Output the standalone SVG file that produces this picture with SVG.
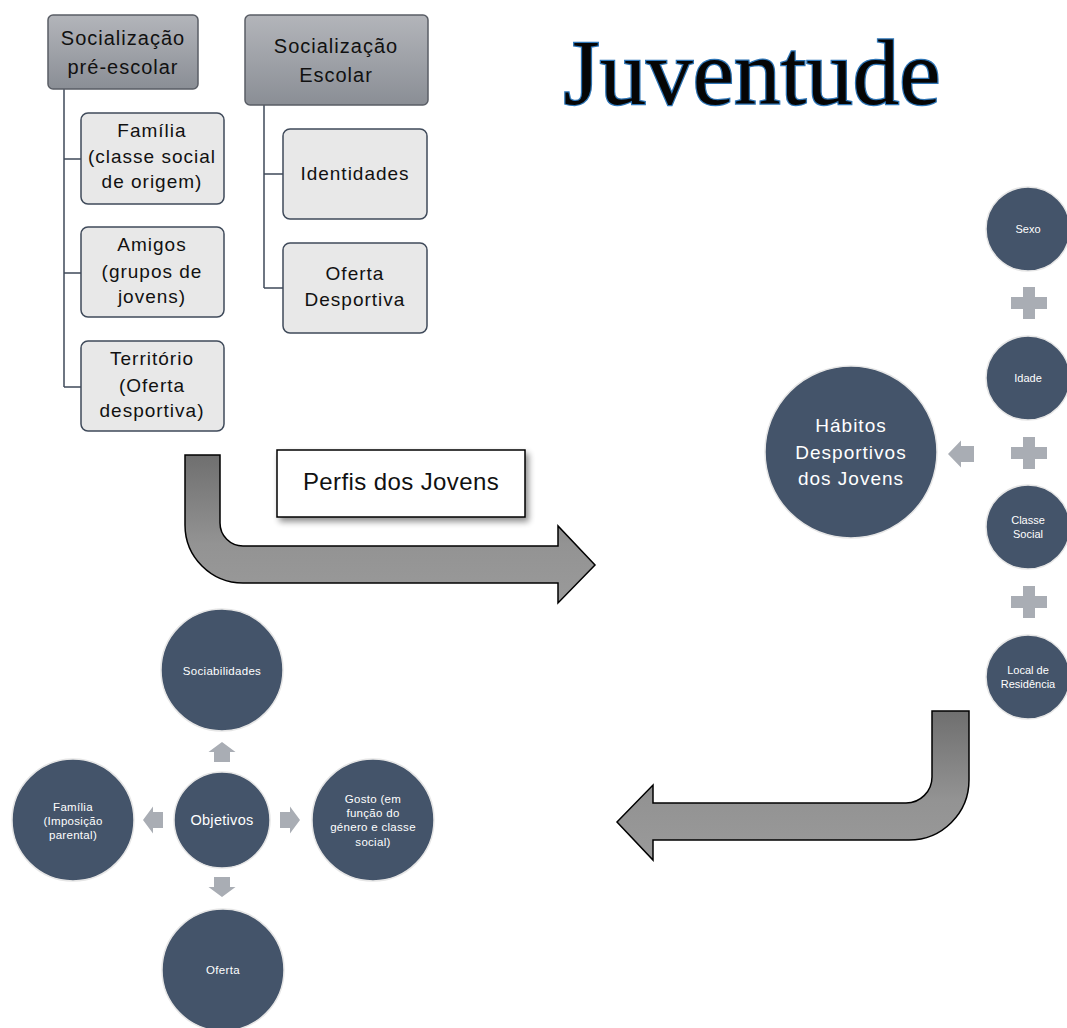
<svg xmlns="http://www.w3.org/2000/svg" width="1067" height="1028" viewBox="0 0 1067 1028">
<defs>
  <linearGradient id="hdr" x1="0" y1="0" x2="0" y2="1">
    <stop offset="0" stop-color="#b3b5ba"/>
    <stop offset="1" stop-color="#8a8e95"/>
  </linearGradient>
  <linearGradient id="arr" x1="0" y1="0" x2="0" y2="1">
    <stop offset="0" stop-color="#6f6f6f"/>
    <stop offset="0.6" stop-color="#939393"/>
    <stop offset="1" stop-color="#9a9a9a"/>
  </linearGradient>
  <filter id="sh" x="-10%" y="-10%" width="130%" height="140%">
    <feGaussianBlur in="SourceAlpha" stdDeviation="3"/>
    <feOffset dx="3" dy="4" result="b"/>
    <feComponentTransfer><feFuncA type="linear" slope="0.45"/></feComponentTransfer>
    <feMerge><feMergeNode/><feMergeNode in="SourceGraphic"/></feMerge>
  </filter>
  <path id="sarrow" d="M0,-8 H10 V-13.5 L20,0 L10,13.5 V8 H0 Z"/>
  <path id="plus" d="M-6,-16 H6 V-6 H18 V6 H6 V16 H-6 V6 H-18 V-6 H-6 Z"/>
</defs>
<style>
  .hdr{fill:url(#hdr);stroke:#5a5e66;stroke-width:1.5}
  .chd{fill:#e8e8e8;stroke:#3f4a5a;stroke-width:1.5}
  .ln{fill:none;stroke:#3f4a5a;stroke-width:1.5}
  .t{font-family:"Liberation Sans",Arial,sans-serif;fill:#111;text-anchor:middle;letter-spacing:1px}
  .th{font-size:20px}
  .tc{font-size:19px}
  .circ{fill:#44546a;stroke:#e6e6e6;stroke-width:1.5}
  .w{font-family:"Liberation Sans",Arial,sans-serif;fill:#ffffff;text-anchor:middle}
  .s{font-size:11.5px;letter-spacing:0.3px}
  .r{font-size:11px}
  .sa{fill:#a9adb4}
  .big{fill:url(#arr);stroke:#000;stroke-width:1.5}
</style>

<g id="connectors">
  <path class="ln" d="M64,89 V387 M64,159 H81 M64,273 H81 M64,387 H81"/>
  <path class="ln" d="M264,105 V288 M264,174 H283 M264,288 H283"/>
</g>

<g id="socializacao-pre-escolar">
  <rect class="hdr" x="48" y="15" width="150" height="74" rx="5"/>
  <text class="t th" x="123" y="45">Socialização</text>
  <text class="t th" x="123" y="74">pré-escolar</text>
</g>
<g id="socializacao-escolar">
  <rect class="hdr" x="245" y="15" width="183" height="90" rx="5"/>
  <text class="t th" x="336" y="53">Socialização</text>
  <text class="t th" x="336" y="82">Escolar</text>
</g>
<g id="familia">
  <rect class="chd" x="81" y="113" width="143" height="91" rx="7"/>
  <text class="t tc" x="152" y="137">Família</text>
  <text class="t tc" x="152" y="163">(classe social</text>
  <text class="t tc" x="152" y="188">de origem)</text>
</g>
<g id="amigos">
  <rect class="chd" x="81" y="227" width="143" height="90" rx="7"/>
  <text class="t tc" x="152" y="251">Amigos</text>
  <text class="t tc" x="152" y="278">(grupos de</text>
  <text class="t tc" x="152" y="303">jovens)</text>
</g>
<g id="territorio">
  <rect class="chd" x="81" y="341" width="143" height="90" rx="7"/>
  <text class="t tc" x="152" y="365">Território</text>
  <text class="t tc" x="152" y="392">(Oferta</text>
  <text class="t tc" x="152" y="417">desportiva)</text>
</g>
<g id="identidades">
  <rect class="chd" x="283" y="129" width="144" height="90" rx="7"/>
  <text class="t tc" x="355" y="180">Identidades</text>
</g>
<g id="oferta-desportiva">
  <rect class="chd" x="283" y="243" width="144" height="90" rx="7"/>
  <text class="t tc" x="355" y="280">Oferta</text>
  <text class="t tc" x="355" y="306">Desportiva</text>
</g>

<g id="titulo">
  <text x="752" y="104" font-family="'Liberation Serif','Times New Roman',serif" font-size="93" text-anchor="middle" fill="#050505" stroke="#2e75b6" stroke-width="2.5" paint-order="stroke">Juventude</text>
</g>

<g id="seta-direita">
  <path class="big" d="M185,455 H220 V523 A23,23 0 0 0 243,546 H558 V526 L595,565 L558,603 V583 H243 A58,58 0 0 1 185,525 Z"/>
</g>
<g id="perfis">
  <rect x="277" y="450" width="248" height="67" fill="#ffffff" stroke="#000" stroke-width="1.5" filter="url(#sh)"/>
  <text x="401" y="490" font-family="'Liberation Sans',Arial,sans-serif" font-size="24" letter-spacing="0.4" text-anchor="middle" fill="#111">Perfis dos Jovens</text>
</g>

<g id="seta-esquerda">
  <path class="big" d="M969,711 V780 A60,60 0 0 1 909,840 H653 V860 L617,822 L653,785 V803 H906 A26,26 0 0 0 932,777 V711 Z"/>
</g>

<g id="habitos">
  <circle class="circ" cx="851" cy="452" r="86"/>
  <text class="w" x="851" y="432" font-size="19" letter-spacing="1">Hábitos</text>
  <text class="w" x="851" y="459" font-size="19" letter-spacing="1">Desportivos</text>
  <text class="w" x="851" y="485" font-size="19" letter-spacing="1">dos Jovens</text>
</g>
<g id="seta-habitos">
  <use href="#sarrow" class="sa" transform="translate(974,454) scale(-1.3,1)"/>
</g>
<g id="sexo">
  <circle class="circ" cx="1028" cy="229" r="42"/>
  <text class="w r" x="1028" y="233">Sexo</text>
</g>
<g id="mais-1"><use href="#plus" class="sa" transform="translate(1029,303)"/></g>
<g id="idade">
  <circle class="circ" cx="1028" cy="378" r="42"/>
  <text class="w r" x="1028" y="382">Idade</text>
</g>
<g id="mais-2"><use href="#plus" class="sa" transform="translate(1029,453)"/></g>
<g id="classe-social">
  <circle class="circ" cx="1028" cy="527" r="42"/>
  <text class="w r" x="1028" y="524">Classe</text>
  <text class="w r" x="1028" y="538">Social</text>
</g>
<g id="mais-3"><use href="#plus" class="sa" transform="translate(1029,602)"/></g>
<g id="local-residencia">
  <circle class="circ" cx="1028" cy="677" r="42"/>
  <text class="w r" x="1028" y="674">Local de</text>
  <text class="w r" x="1028" y="688">Residência</text>
</g>

<g id="sociabilidades">
  <circle class="circ" cx="222" cy="670" r="61"/>
  <text class="w s" x="222" y="675">Sociabilidades</text>
</g>
<g id="objetivos">
  <circle class="circ" cx="222" cy="820" r="48"/>
  <text class="w" x="222" y="825" font-size="14.5" letter-spacing="0.3">Objetivos</text>
</g>
<g id="familia-imposicao">
  <circle class="circ" cx="73" cy="820" r="61"/>
  <text class="w s" x="73" y="811">Família</text>
  <text class="w s" x="73" y="825">(Imposição</text>
  <text class="w s" x="73" y="839">parental)</text>
</g>
<g id="gosto">
  <circle class="circ" cx="373" cy="820" r="61"/>
  <text class="w s" x="373" y="803">Gosto (em</text>
  <text class="w s" x="373" y="817">função do</text>
  <text class="w s" x="373" y="831">género e classe</text>
  <text class="w s" x="373" y="846">social)</text>
</g>
<g id="oferta">
  <circle class="circ" cx="223" cy="970" r="61"/>
  <text class="w s" x="223" y="974">Oferta</text>
</g>
<g id="setas-objetivos">
  <use href="#sarrow" class="sa" transform="translate(222,762) rotate(-90)"/>
  <use href="#sarrow" class="sa" transform="translate(163,820) scale(-1,1)"/>
  <use href="#sarrow" class="sa" transform="translate(280,820)"/>
  <use href="#sarrow" class="sa" transform="translate(222,877) rotate(90)"/>
</g>
</svg>
